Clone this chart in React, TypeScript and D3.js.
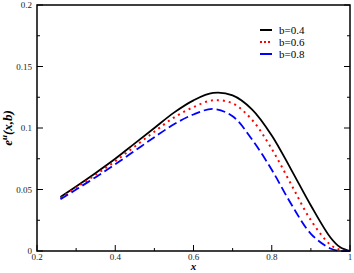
import React, { useEffect, useRef } from "react";
import * as d3 from "d3";

const xs = [0.26, 0.3, 0.35, 0.4, 0.45, 0.5, 0.55, 0.6, 0.65, 0.7, 0.75, 0.8, 0.85, 0.9, 0.95, 0.975, 1.0];
const b04 = [0.044, 0.0525, 0.0635, 0.075, 0.0875, 0.1, 0.1125, 0.1225, 0.1285, 0.1265, 0.115, 0.094, 0.066, 0.037, 0.011, 0.003, 0];
const b06 = [0.043, 0.0515, 0.062, 0.073, 0.085, 0.097, 0.1085, 0.117, 0.1225, 0.12, 0.1065, 0.083, 0.054, 0.025, 0.005, 0.001, 0];
const b08 = [0.042, 0.05, 0.06, 0.0705, 0.0815, 0.0925, 0.103, 0.111, 0.1155, 0.1095, 0.0905, 0.066, 0.038, 0.014, 0.002, 0, 0];

const series = [
  { label: "b=0.4", values: b04, color: "#000000", dash: null },
  { label: "b=0.6", values: b06, color: "#ff0000", dash: "2,4" },
  { label: "b=0.8", values: b08, color: "#0000ff", dash: "9,4" },
];

const xTicks = [0.2, 0.4, 0.6, 0.8, 1];
const xTickLabels = ["0.2", "0.4", "0.6", "0.8", "1"];
const yTicks = [0, 0.05, 0.1, 0.15, 0.2];
const yTickLabels = ["0", "0.05", "0.1", "0.15", "0.2"];

const App = () => {
  const ref = useRef<SVGSVGElement>(null);

  useEffect(() => {
    const margin = { top: 5, right: 4, bottom: 22, left: 37 };
    const width = 354 - margin.left - margin.right;
    const height = 273 - margin.top - margin.bottom;

    const root = d3.select(ref.current);
    root.selectAll("*").remove();

    const svg = root
      .append("g")
      .attr("transform", `translate(${margin.left},${margin.top})`);

    const x = d3.scaleLinear().domain([0.2, 1]).range([0, width]);
    const y = d3.scaleLinear().domain([0, 0.2]).range([height, 0]);

    const font = "serif";

    // ticks, pointing inward
    const xMinor = d3.range(0.3, 1, 0.2);
    const yMinor = d3.range(0.025, 0.2, 0.05);
    const tk = svg.append("g").attr("stroke", "#000").attr("stroke-width", 1);
    xTicks.forEach((t) => {
      tk.append("line").attr("x1", x(t)).attr("x2", x(t)).attr("y1", height).attr("y2", height - 6);
    });
    xMinor.forEach((t) => {
      tk.append("line").attr("x1", x(t)).attr("x2", x(t)).attr("y1", height).attr("y2", height - 3);
    });
    yTicks.forEach((t) => {
      tk.append("line").attr("x1", 0).attr("x2", 6).attr("y1", y(t)).attr("y2", y(t));
      tk.append("line").attr("x1", width).attr("x2", width - 6).attr("y1", y(t)).attr("y2", y(t));
    });
    yMinor.forEach((t) => {
      tk.append("line").attr("x1", 0).attr("x2", 3).attr("y1", y(t)).attr("y2", y(t));
      tk.append("line").attr("x1", width).attr("x2", width - 3).attr("y1", y(t)).attr("y2", y(t));
    });

    // tick labels
    svg
      .selectAll(".xl")
      .data(xTicks)
      .enter()
      .append("text")
      .attr("x", (d) => x(d))
      .attr("y", height + 9)
      .attr("text-anchor", "middle")
      .attr("font-family", font)
      .attr("font-size", 9)
      .attr("fill", "#222")
      .text((d, i) => xTickLabels[i]);

    svg
      .selectAll(".yl")
      .data(yTicks)
      .enter()
      .append("text")
      .attr("x", -5)
      .attr("y", (d) => y(d) + 3)
      .attr("text-anchor", "end")
      .attr("font-family", font)
      .attr("font-size", 9)
      .attr("fill", "#222")
      .text((d, i) => yTickLabels[i]);

    // curves
    const line = d3
      .line<number>()
      .x((d, i) => x(xs[i]))
      .y((d) => y(Math.max(0, d)))
      .curve(d3.curveCatmullRom.alpha(0.5));

    series.forEach((s) => {
      svg
        .append("path")
        .datum(s.values)
        .attr("fill", "none")
        .attr("stroke", s.color)
        .attr("stroke-width", s.dash === "2,4" ? 2 : 1.8)
        .attr("stroke-dasharray", s.dash)
        .attr("d", line);
    });

    // frame
    svg
      .append("rect")
      .attr("width", width)
      .attr("height", height)
      .attr("fill", "none")
      .attr("stroke", "#000")
      .attr("stroke-width", 1.5);

    // legend
    const lg = svg.append("g").attr("transform", `translate(223,25)`);
    series.forEach((s, i) => {
      lg.append("line")
        .attr("x1", 0)
        .attr("x2", 12)
        .attr("y1", i * 12)
        .attr("y2", i * 12)
        .attr("stroke", s.color)
        .attr("stroke-width", 2)
        .attr("stroke-dasharray", s.dash === "2,4" ? "2,2" : null);
      lg.append("text")
        .attr("x", 19)
        .attr("y", i * 12 + 4)
        .attr("font-family", font)
        .attr("font-size", 11)
        .attr("fill", "#000")
        .text(s.label);
    });

    // axis titles
    svg
      .append("text")
      .attr("x", width / 2)
      .attr("y", height + 19)
      .attr("text-anchor", "middle")
      .attr("font-family", font)
      .attr("font-size", 11)
      .attr("font-weight", "bold")
      .attr("font-style", "italic")
      .text("x");

    const yl = svg
      .append("text")
      .attr("transform", `translate(-25,${height / 2}) rotate(-90)`)
      .attr("text-anchor", "middle")
      .attr("font-family", font)
      .attr("font-size", 13)
      .attr("font-weight", "bold")
      .attr("font-style", "italic");
    yl.append("tspan").text("e");
    yl.append("tspan").attr("font-size", 9).attr("dy", -5).text("u");
    yl.append("tspan").attr("dy", 5).text("(x,b)");
  }, []);

  return (
    <svg
      ref={ref}
      width={354}
      height={273}
      style={{ position: "absolute", left: 0, top: 0, background: "#fff" }}
    />
  );
};

export default App;
